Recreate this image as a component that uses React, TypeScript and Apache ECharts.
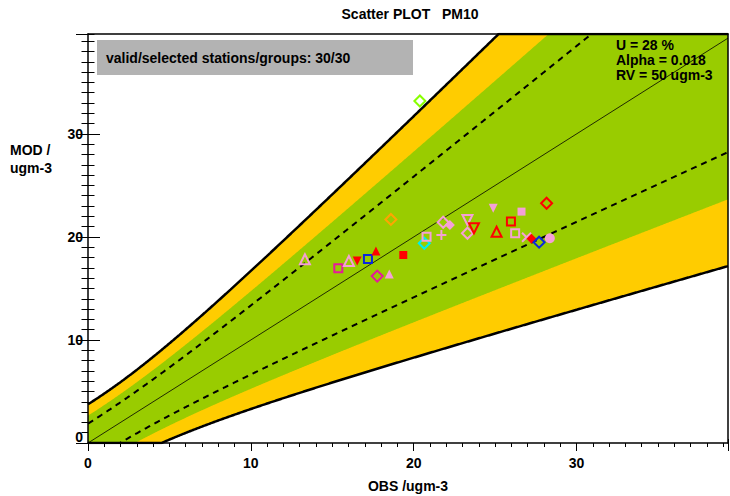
import React, { useEffect, useRef } from "react";
import * as echarts from "echarts";

// Axis extents (µg/m3)
const X_MAX = 39.3;
const Y_MAX = 39.7;

// Measurement-uncertainty parameters shown in the plot
const U_R = 0.28;
const ALPHA = 0.018;
const RV = 50;

// Station values: observed and modelled PM10 means
const OBS = [
  13.32, 15.37, 16.02, 16.53, 17.19, 17.68, 18.6, 19.36, 17.76, 18.5,
  20.65, 20.79, 21.7, 21.81, 22.22, 23.3, 23.3, 23.7, 24.88, 25.09,
  26.62, 25.97, 26.23, 26.93, 27.23, 27.7, 28.36, 28.16, 20.38,
];
const MOD = [
  17.83, 16.96, 17.67, 17.67, 17.86, 18.64, 21.7, 18.25, 16.2, 16.4,
  19.39, 20.03, 20.19, 21.43, 21.17, 21.65, 20.36, 20.84, 22.79, 20.51,
  22.46, 21.49, 20.36, 19.97, 19.83, 19.49, 19.87, 23.27, 33.2,
];

// Marker shape and colour for each station
const MARKERS = [
  "triOpen", "squareOpen", "triOpen", "dtriFill", "squareOpen", "triFill", "diamondOpen", "squareFill", "diamondOpen", "triFill",
  "diamondOpen", "squareOpen", "plus", "diamondOpen", "diamondFill", "dtriOpen", "diamondOpen", "dtriOpen", "dtriFill", "triOpen",
  "squareFill", "squareOpen", "squareOpen", "cross", "diamondFill", "diamondOpen", "circleFill", "diamondOpen", "diamondOpen",
];
const COLORS = [
  "pink", "magenta", "pink", "red", "blue", "red", "orange", "red", "magenta", "pink",
  "cyan", "pink", "pink", "pink", "pink", "pink", "pink", "red", "pink", "red",
  "pink", "red", "pink", "pink", "red", "blue", "pink", "red", "lime",
];

const PALETTE: Record<string, string> = {
  pink: "#f5a0d6",
  magenta: "#e6179b",
  red: "#ff0000",
  blue: "#0a28dc",
  cyan: "#00eeee",
  orange: "#ffa500",
  lime: "#88ff00",
};

const FONT = '"Liberation Sans", Arial, sans-serif';

const uncertainty = (o: number) =>
  U_R * Math.sqrt((1 - ALPHA) * o * o + ALPHA * RV * RV);

const clampY = (v: number) => Math.max(0, Math.min(Y_MAX, v));

function symbolFor(kind: string, color: string) {
  const open = { color: "rgba(0,0,0,0)", borderColor: color, borderWidth: 2, opacity: 1 };
  const fill = { color, borderWidth: 0, opacity: 1 };
  switch (kind) {
    case "triOpen":
      return { symbol: "triangle", symbolSize: 10, itemStyle: open };
    case "triFill":
      return { symbol: "triangle", symbolSize: 9, itemStyle: fill };
    case "dtriOpen":
      return { symbol: "triangle", symbolSize: 10, symbolRotate: 180, itemStyle: open };
    case "dtriFill":
      return { symbol: "triangle", symbolSize: 9, symbolRotate: 180, itemStyle: fill };
    case "squareOpen":
      return { symbol: "rect", symbolSize: 8, itemStyle: open };
    case "squareFill":
      return { symbol: "rect", symbolSize: 8, itemStyle: fill };
    case "diamondOpen":
      return { symbol: "diamond", symbolSize: 11, itemStyle: open };
    case "diamondFill":
      return { symbol: "diamond", symbolSize: 10, itemStyle: fill };
    case "circleFill":
      return { symbol: "circle", symbolSize: 10, itemStyle: fill };
    case "plus":
      return { symbol: "path://M0,5L10,5M5,0L5,10", symbolSize: 10, itemStyle: open };
    case "cross":
      return { symbol: "path://M0,0L10,10M10,0L0,10", symbolSize: 9, itemStyle: open };
    default:
      return { symbol: "circle", symbolSize: 8, itemStyle: fill };
  }
}

export default function App() {
  const ref = useRef<HTMLDivElement>(null);

  useEffect(() => {
    if (!ref.current) return;
    const chart = echarts.init(ref.current, undefined, { renderer: "svg" });

    // Sample the envelope curves along the observation axis
    const xs: number[] = [];
    for (let i = 0; i * 0.05 < X_MAX; i++) xs.push(+(i * 0.05).toFixed(2));
    xs.push(X_MAX);

    const K = Math.SQRT2;
    const hi2 = xs.map((o) => [o, clampY(o + 2 * uncertainty(o))]);
    const hiK = xs.map((o) => [o, clampY(o + K * uncertainty(o))]);
    const loK = xs.map((o) => [o, clampY(o - K * uncertainty(o))]);
    const lo2 = xs.map((o) => [o, clampY(o - 2 * uncertainty(o))]);
    const hi1 = xs.map((o) => [o, o + uncertainty(o)]);
    const lo1 = xs.map((o) => [o, o - uncertainty(o)]);

    const area = (data: number[][], color: string) => ({
      type: "line",
      data,
      showSymbol: false,
      silent: true,
      lineStyle: { width: 0 },
      areaStyle: { color, opacity: 1, origin: "start" },
      z: 1,
    });
    const curve = (data: number[][], width: number, type: any) => ({
      type: "line",
      data,
      showSymbol: false,
      silent: true,
      lineStyle: { color: "#000", width, type },
      z: 2,
    });

    const points = OBS.map((o, i) => ({
      value: [o, MOD[i]],
      ...symbolFor(MARKERS[i], PALETTE[COLORS[i]]),
    }));

    const labelStyle = { color: "#000", fontSize: 14, fontWeight: "bold", fontFamily: FONT };

    const xMajor = (position: string, labels: boolean) => ({
      type: "value", position, min: 0, max: X_MAX, interval: 10,
      axisLine: { show: false },
      axisTick: { show: true, inside: true, length: 8, lineStyle: { color: "#000", width: 1 } },
      axisLabel: labels ? { show: true, margin: 13, showMaxLabel: false, ...labelStyle } : { show: false },
      splitLine: { show: false },
    });
    const xMinor = (position: string) => ({
      type: "value", position, min: 0, max: X_MAX, interval: 1,
      axisLine: { show: false },
      axisTick: { show: true, inside: true, length: 4, lineStyle: { color: "#000", width: 1 } },
      axisLabel: { show: false },
      splitLine: { show: false },
    });
    const xFrame = (position: string) => ({
      type: "value", position, min: 0, max: X_MAX, z: 5,
      axisLine: { show: true, onZero: false, lineStyle: { color: "#000", width: 1.5 } },
      axisTick: { show: false }, axisLabel: { show: false }, splitLine: { show: false },
    });
    const yMajor = (position: string, labels: boolean) => ({
      type: "value", position, min: 0, max: Y_MAX, interval: 10,
      axisLine: { show: false },
      axisTick: { show: true, inside: true, length: 12, lineStyle: { color: "#000", width: 1 } },
      axisLabel: labels
        ? {
            show: true, margin: 5, showMaxLabel: false, ...labelStyle,
            formatter: (v: number) => (v === 0 ? "{z|0}" : String(v)),
            rich: { z: { ...labelStyle, padding: [0, 0, 12, 0] } },
          }
        : { show: false },
      splitLine: { show: false },
    });
    const yMinor = (position: string) => ({
      type: "value", position, min: 0, max: Y_MAX, interval: 1,
      axisLine: { show: false },
      axisTick: { show: true, inside: true, length: 6.5, lineStyle: { color: "#000", width: 1 } },
      axisLabel: { show: false },
      splitLine: { show: false },
    });
    const yFrame = (position: string) => ({
      type: "value", position, min: 0, max: Y_MAX, z: 5,
      axisLine: { show: true, onZero: false, lineStyle: { color: "#000", width: 1.5 } },
      axisTick: { show: false }, axisLabel: { show: false }, splitLine: { show: false },
    });

    chart.setOption({
      animation: false,
      backgroundColor: "#fff",
      textStyle: { fontFamily: FONT },
      grid: { left: 88, right: 2, top: 34, bottom: 53, containLabel: false },
      xAxis: [
        xMajor("bottom", true), xMinor("bottom"), xFrame("bottom"),
        xMajor("top", false), xMinor("top"), xFrame("top"),
      ],
      yAxis: [
        yMajor("left", true), yMinor("left"), yFrame("left"),
        yMajor("right", false), yMinor("right"), yFrame("right"),
      ],
      series: [
        area(hi2, "#ffcc00"),
        area(hiK, "#99cc00"),
        area(loK, "#ffcc00"),
        area(lo2, "#ffffff"),
        curve([[0, 0], [X_MAX, X_MAX]], 0.8, "solid"),
        curve(hi1, 2, [6, 5]),
        curve(lo1, 2, [6, 5]),
        curve(hi2, 2.5, "solid"),
        curve(lo2, 2.5, "solid"),
        {
          type: "scatter",
          data: points,
          z: 4,
          silent: true,
          itemStyle: { opacity: 1 },
        },
      ],
      graphic: [
        {
          type: "text", x: 410, y: 14, z: 10,
          style: { text: "Scatter PLOT   PM10", font: `bold 14px ${FONT}`, fill: "#000", align: "center", verticalAlign: "middle" },
        },
        {
          type: "rect", z: 10,
          shape: { x: 97, y: 40, width: 316, height: 35 },
          style: { fill: "#b3b3b3" },
        },
        {
          type: "text", x: 106, y: 58, z: 11,
          style: { text: "valid/selected stations/groups: 30/30", font: `bold 14px ${FONT}`, fill: "#000", align: "left", verticalAlign: "middle" },
        },
        {
          type: "text", x: 616, y: 37, z: 10,
          style: {
            text: `U = ${Math.round(U_R * 100)} %\nAlpha = ${ALPHA}\nRV = ${RV} ugm-3`,
            font: `bold 14px ${FONT}`, fill: "#000", align: "left", verticalAlign: "top", lineHeight: 15,
          },
        },
        {
          type: "text", x: 10, y: 141, z: 10,
          style: { text: "MOD /\nugm-3", font: `bold 14px ${FONT}`, fill: "#000", align: "left", verticalAlign: "top", lineHeight: 18 },
        },
        {
          type: "text", x: 408, y: 486, z: 10,
          style: { text: "OBS /ugm-3", font: `bold 14px ${FONT}`, fill: "#000", align: "center", verticalAlign: "middle" },
        },
      ],
    });

    return () => chart.dispose();
  }, []);

  return (
    <div
      ref={ref}
      style={{ position: "absolute", left: 0, top: 0, width: 730, height: 496 }}
    />
  );
}
